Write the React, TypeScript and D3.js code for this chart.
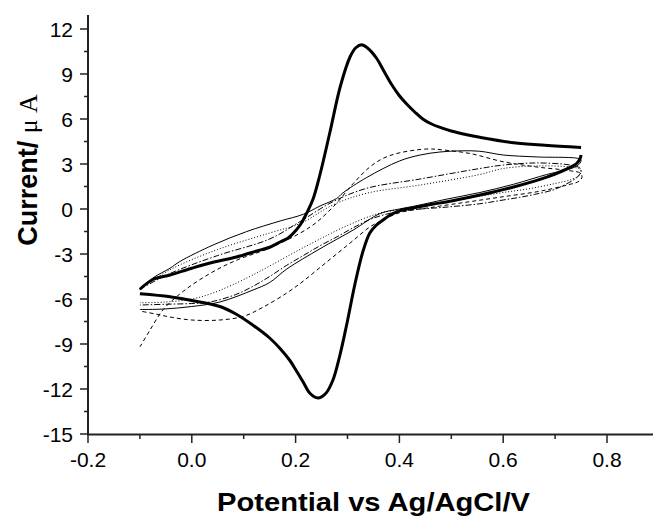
import React from "react";
import * as d3 from "d3";

// ---- data (potential V, current µA) ----
const thickFwdX = [-0.1, -0.075, -0.042, 0.0, 0.041, 0.086, 0.125, 0.15, 0.17, 0.185, 0.2, 0.21, 0.221, 0.234, 0.247, 0.266, 0.286, 0.305, 0.316, 0.327, 0.338, 0.356, 0.37, 0.385, 0.4, 0.414, 0.43, 0.445, 0.46, 0.48, 0.5, 0.53, 0.555, 0.62, 0.68, 0.75];
const thickFwdY = [-5.35, -4.7, -4.4, -3.95, -3.55, -3.2, -2.8, -2.55, -2.2, -1.95, -1.45, -1.0, -0.3, 0.7, 2.3, 5.1, 8.15, 10.15, 10.75, 10.95, 10.75, 10.05, 9.2, 8.3, 7.55, 7.0, 6.45, 6.0, 5.7, 5.42, 5.2, 4.95, 4.78, 4.42, 4.25, 4.1];
const thickRevX = [0.75, 0.748, 0.742, 0.73, 0.715, 0.684, 0.62, 0.555, 0.49, 0.465, 0.426, 0.4, 0.38, 0.368, 0.355, 0.343, 0.33, 0.315, 0.2985, 0.285, 0.272, 0.258, 0.243, 0.228, 0.214, 0.2, 0.189, 0.17, 0.15, 0.118, 0.085, 0.054, 0.0, -0.042, -0.1];
const thickRevY = [3.6, 3.35, 3.05, 2.8, 2.55, 2.13, 1.47, 0.93, 0.47, 0.33, 0.07, -0.12, -0.45, -0.75, -1.1, -1.6, -2.8, -4.9, -7.7, -9.8, -11.4, -12.3, -12.6, -12.3, -11.5, -10.7, -10.1, -9.3, -8.6, -7.75, -7.0, -6.5, -6.1, -5.85, -5.65];

const solidX = [-0.1, -0.075, -0.042, -0.023, 0.041, 0.106, 0.17, 0.215, 0.247, 0.279, 0.291, 0.337, 0.4, 0.44, 0.478, 0.52, 0.555, 0.6, 0.665, 0.748,
  0.75, 0.745, 0.735, 0.715, 0.684, 0.62, 0.555, 0.49, 0.43, 0.4, 0.363, 0.311, 0.247, 0.183, 0.15, 0.118, 0.054, 0.0, -0.055, -0.1];
const solidY = [-5.4, -4.6, -3.95, -3.5, -2.4, -1.5, -0.8, -0.35, 0.2, 0.7, 1.07, 2.1, 3.2, 3.6, 3.8, 3.88, 3.85, 3.6, 3.47, 3.33,
  3.2, 2.95, 2.75, 2.55, 2.3, 1.65, 1.1, 0.65, 0.2, 0.0, -0.3, -1.4, -2.65, -4.0, -4.9, -5.4, -6.2, -6.5, -6.67, -6.7];

const dashedX = [-0.1, -0.081, -0.055, -0.017, 0.035, 0.087, 0.15, 0.228, 0.272, 0.311, 0.343, 0.37, 0.401, 0.453, 0.48, 0.536, 0.6, 0.665, 0.729, 0.748,
  0.752, 0.748, 0.74, 0.729, 0.7, 0.665, 0.6, 0.536, 0.47, 0.4, 0.37, 0.343, 0.311, 0.279, 0.247, 0.215, 0.183, 0.137, 0.1, 0.054, 0.0, -0.042, -0.07, -0.1];
const dashedY = [-9.2, -8.1, -6.7, -5.5, -4.3, -3.4, -2.6, -1.2, 0.13, 1.7, 2.8, 3.4, 3.75, 4.0, 3.95, 3.7, 3.15, 2.8, 2.55, 2.4,
  2.15, 1.9, 1.75, 1.65, 1.4, 1.15, 0.82, 0.49, 0.15, -0.25, -0.7, -1.2, -2.1, -3.0, -3.9, -4.8, -5.6, -6.55, -7.15, -7.4, -7.4, -7.2, -7.0, -6.8];

const dottedX = [-0.1, -0.042, 0.05, 0.15, 0.21, 0.272, 0.337, 0.44, 0.555, 0.6, 0.665, 0.729, 0.748,
  0.75, 0.745, 0.73, 0.7, 0.65, 0.6, 0.555, 0.49, 0.426, 0.363, 0.3, 0.247, 0.2, 0.15, 0.106, 0.041, 0.0, -0.05, -0.1];
const dottedY = [-5.35, -4.05, -2.7, -1.6, -0.95, 0.27, 1.05, 1.6, 2.3, 2.7, 2.87, 2.8, 2.65,
  2.45, 2.2, 1.95, 1.7, 1.35, 1.1, 0.85, 0.45, 0.05, -0.27, -1.1, -2.0, -2.85, -3.8, -4.6, -5.6, -6.0, -6.2, -6.25];

const dashDotX = [-0.1, -0.042, 0.05, 0.15, 0.208, 0.272, 0.337, 0.44, 0.555, 0.6, 0.665, 0.729, 0.748,
  0.75, 0.745, 0.735, 0.715, 0.696, 0.66, 0.632, 0.6, 0.555, 0.492, 0.426, 0.38, 0.343, 0.311, 0.28, 0.247, 0.215, 0.183, 0.15, 0.118, 0.085, 0.035, 0.0, -0.05, -0.1];
const dashDotY = [-5.35, -4.3, -3.1, -2.0, -0.85, 0.49, 1.38, 2.0, 2.7, 2.93, 3.07, 2.93, 2.73,
  2.5, 2.2, 1.93, 1.55, 1.27, 0.97, 0.78, 0.6, 0.35, 0.13, -0.05, -0.3, -0.7, -1.25, -1.85, -2.45, -3.1, -3.75, -4.5, -5.15, -5.7, -6.2, -6.3, -6.35, -6.4];

const xTicks = [-0.2, 0.0, 0.2, 0.4, 0.6, 0.8];
const xMinor = [-0.1, 0.1, 0.3, 0.5, 0.7, 0.9];
const yTicks = [-15, -12, -9, -6, -3, 0, 3, 6, 9, 12];
const yMinor = [-13.5, -10.5, -7.5, -4.5, -1.5, 1.5, 4.5, 7.5, 10.5];

export default function App() {
  const x = d3.scaleLinear().domain([-0.2, 0.9]).range([88, 658.9]);
  const y = d3.scaleLinear().domain([-15, 13]).range([434, 14]);
  const line = d3
    .line<[number, number]>()
    .x((d) => x(d[0]))
    .y((d) => y(d[1]))
    .curve(d3.curveCatmullRom.alpha(0.5));
  const pts = (xs: number[], ys: number[]) => xs.map((v, i) => [v, ys[i]] as [number, number]);
  const font = "Arial, 'Liberation Sans', sans-serif";
  const axisColor = "#222";

  const series = [
    { xs: dashedX, ys: dashedY, w: 1, dash: "4,3" },
    { xs: dottedX, ys: dottedY, w: 1, dash: "1,2" },
    { xs: dashDotX, ys: dashDotY, w: 1, dash: "6,2,1.5,2" },
    { xs: solidX, ys: solidY, w: 1, dash: undefined },
    { xs: thickFwdX, ys: thickFwdY, w: 3, dash: undefined },
    { xs: thickRevX, ys: thickRevY, w: 3, dash: undefined },
  ];

  return (
    <svg width={653} height={516} style={{ display: "block", position: "absolute", left: 0, top: 0 }}>
      <rect width={653} height={516} fill="#fff" />
      {series.map((s, i) => (
        <path
          key={i}
          d={line(pts(s.xs, s.ys)) || ""}
          fill="none"
          stroke="#000"
          strokeWidth={s.w}
          strokeDasharray={s.dash}
          strokeLinejoin="round"
        />
      ))}
      {/* axes */}
      <line x1={88} y1={15} x2={88} y2={435} stroke={axisColor} strokeWidth={2} />
      <line x1={87} y1={434.5} x2={653} y2={434.5} stroke={axisColor} strokeWidth={2} />
      {yTicks.map((t) => (
        <g key={"y" + t}>
          <line x1={80} x2={88} y1={y(t)} y2={y(t)} stroke={axisColor} strokeWidth={1.5} />
          <text x={73} y={y(t)} dy="0.36em" textAnchor="end" fontFamily={font} fontSize={21} fill="#000">
            {t}
          </text>
        </g>
      ))}
      {yMinor.map((t) => (
        <line key={"ym" + t} x1={84} x2={88} y1={y(t)} y2={y(t)} stroke={axisColor} strokeWidth={1.5} />
      ))}
      {xTicks.map((t) => (
        <g key={"x" + t}>
          <line x1={x(t)} x2={x(t)} y1={434} y2={443} stroke={axisColor} strokeWidth={1.5} />
          <text x={x(t)} y={467} textAnchor="middle" fontFamily={font} fontSize={21} fill="#000">
            {t.toFixed(1)}
          </text>
        </g>
      ))}
      {xMinor.map((t) => (
        <line key={"xm" + t} x1={x(t)} x2={x(t)} y1={434} y2={439} stroke={axisColor} strokeWidth={1.5} />
      ))}
      <text
        x={373.5}
        y={511}
        textAnchor="middle"
        fontFamily={font}
        fontWeight="bold"
        fontSize={25.5}
        textLength={313}
        lengthAdjust="spacingAndGlyphs"
        fill="#000"
      >
        Potential vs Ag/AgCl/V
      </text>
      <text
        transform="translate(37,170) rotate(-90)"
        textAnchor="middle"
        fontFamily={font}
        fontSize={27}
        fill="#000"
      >
        <tspan fontWeight="bold">Current/ </tspan>
        <tspan fontFamily="'Liberation Serif', 'DejaVu Serif', serif" fontSize={26}>μ A</tspan>
      </text>
    </svg>
  );
}
